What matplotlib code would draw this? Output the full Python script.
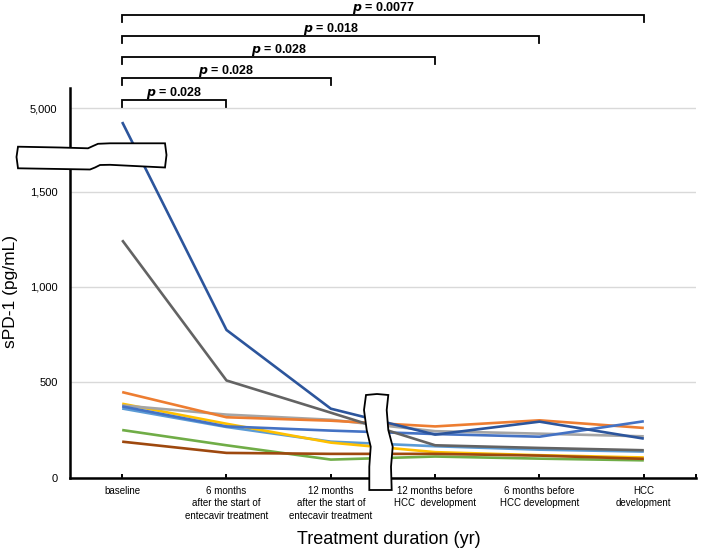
import numpy as np
import matplotlib
matplotlib.use("Agg")
import matplotlib.pyplot as plt
import matplotlib.transforms as mtransforms
from matplotlib.patches import Polygon

# categories on the x axis
categories = [
    "baseline",
    "6 months\nafter the start of\nentecavir treatment",
    "12 months\nafter the start of\nentecavir treatment",
    "12 months before\nHCC  development",
    "6 months before\nHCC development",
    "HCC\ndevelopment",
]

# sPD-1 (pg/mL), one list per patient
dark_blue = [4430, 774, 361, 225, 293, 204]
dark_gray = [1245, 509, 340, 169, 155, 143]
orange = [448, 316, 298, 268, 300, 260]
light_gray = [378, 330, 303, 243, 230, 216]
yellow = [387, 282, 183, 133, 117, 105]
blue = [373, 268, 246, 228, 214, 295]
light_blue = [362, 265, 188, 164, 146, 136]
green = [249, 169, 94, 110, 99, 90]
brown = [188, 129, 124, 124, 115, 98]

series = [
    (light_blue, "#5B9BD5"),
    (yellow, "#FFC000"),
    (green, "#70AD47"),
    (brown, "#9E480E"),
    (light_gray, "#A5A5A5"),
    (orange, "#ED7D31"),
    (blue, "#4472C4"),
    (dark_gray, "#636363"),
    (dark_blue, "#2C559C"),
]

yticks = [0, 500, 1000, 1500, 5000]
ytick_labels = ["0", "500", "1,000", "1,500", "5,000"]

# comparisons against baseline: (end category index, label)
comparisons = [(1, "0.028"), (2, "0.028"), (3, "0.028"), (4, "0.018"), (5, "0.0077")]

# broken y axis: above 1,500 the scale is compressed
BREAK = 1500
K = 0.12457


def fwd(v):
    v = np.asarray(v, dtype=float)
    return np.where(v <= BREAK, v, BREAK + (v - BREAK) * K)


def inv(m):
    m = np.asarray(m, dtype=float)
    return np.where(m <= BREAK, m, BREAK + (m - BREAK) / K)


plt.rcParams["font.family"] = ["Liberation Sans", "DejaVu Sans"]

W, H = 709, 549
fig = plt.figure(figsize=(W / 100, H / 100), dpi=100)
ax = fig.add_axes([70 / W, 1 - 477.5 / H, (696 - 70) / W, (477.5 - 88) / H])

x = np.arange(len(categories))
for vals, col in series:
    ax.plot(x, vals, color=col, linewidth=1.9, solid_capstyle="butt", zorder=3)

ax.set_yscale("function", functions=(fwd, inv))
ax.set_ylim(0, float(inv(2043.5)))
ax.set_xlim(-0.5, 5.5)

ax.set_yticks(yticks)
ax.set_yticklabels(ytick_labels, fontsize=8)
ax.yaxis.grid(True, color="#D9D9D9", linewidth=1.0, zorder=0)
ax.set_axisbelow(True)
ax.tick_params(axis="y", length=0, pad=9)

ax.set_xticks(x)
ax.set_xticklabels(categories, fontsize=7, linespacing=1.3)
ax.set_xticks([5.5], minor=True)
ax.tick_params(axis="x", which="both", direction="in", length=3, width=1.4, pad=6, color="black")

for s in ["top", "right"]:
    ax.spines[s].set_visible(False)
for s in ["left", "bottom"]:
    ax.spines[s].set_linewidth(1.8)
    ax.spines[s].set_color("black")

fig.text(389 / W, 1 - 544 / H, "Treatment duration (yr)", ha="center", va="baseline", fontsize=13)
fig.text(11 / W, 1 - 292 / H, "sPD-1 (pg/mL)", ha="center", va="center", rotation=90, fontsize=12.5)

# pixel transform (origin top-left) for decorations
px = mtransforms.Affine2D().scale(1 / W, -1 / H).translate(0, 1) + fig.transFigure
bt = mtransforms.blended_transform_factory(ax.transData, px)

bracket_y = [100, 78, 57, 36, 15]
for (end, lab), by in zip(comparisons, bracket_y):
    ax.plot([0, 0, end, end], [by + 7, by, by, by + 7], color="black", linewidth=1.3,
            transform=bt, clip_on=False, zorder=5, solid_joinstyle="miter")
    ax.text(end / 2, by - 4, r"$\bfit{p}$ = " + lab, transform=bt, ha="center", va="baseline",
            fontsize=9, fontweight="bold", clip_on=False)

# y axis break marker
ybreak = [(18, 146.7), (60, 147.5), (88, 148.3), (93, 146), (98, 143.8), (110, 143.3), (165, 143.3),
          (166.5, 155), (165, 167.5), (110, 164.8), (100, 165), (95, 167.5), (90, 169.5),
          (60, 169), (18, 168.3), (16.5, 157)]
fig.patches.append(Polygon(ybreak, closed=True, facecolor="white", edgecolor="black",
                           linewidth=1.3, transform=px, zorder=10))

# x axis break marker
xbreak = [(366, 395), (364, 410), (366.7, 430), (370.7, 446.7), (369.3, 466.7), (369.3, 490),
          (391.7, 490), (391, 466.7), (392.7, 446.7), (388.3, 430), (386.7, 410), (388.3, 395),
          (377, 394)]
fig.patches.append(Polygon(xbreak, closed=True, facecolor="white", edgecolor="black",
                           linewidth=1.3, transform=px, zorder=10))

fig.savefig("out.png", dpi=100)
